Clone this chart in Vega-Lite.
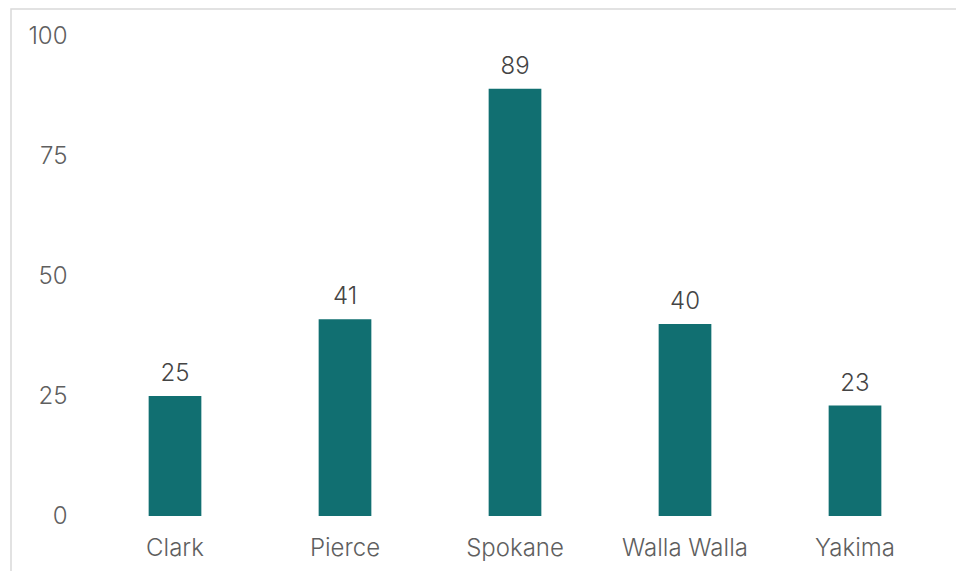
{
  "$schema": "https://vega.github.io/schema/vega-lite/v6.json",
  "autosize": "none",
  "width": 1000,
  "height": 600,
  "padding": {"left": 11, "top": 9, "right": -55, "bottom": -38},
  "background": "white",
  "config": {
    "view": {"stroke": "#d9d9d9", "strokeWidth": 1.5},
    "font": "Inter"
  },
  "data": {"values": [
    {"county": "Clark", "value": 25},
    {"county": "Pierce", "value": 41},
    {"county": "Spokane", "value": 89},
    {"county": "Walla Walla", "value": 40},
    {"county": "Yakima", "value": 23}
  ]},
  "encoding": {
    "x": {"field": "county", "type": "nominal", "sort": null,
      "scale": {"range": [79, 929], "paddingInner": 0.69, "paddingOuter": 0.345},
      "axis": {"title": null, "orient": "bottom", "offset": -92, "domain": false, "ticks": false, "labelPadding": 19, "labelFontSize": 24, "labelFontWeight": 300, "labelColor": "#5f5f5f", "labelAngle": 0, "labelFont": "Inter"}},
    "y": {"field": "value", "type": "quantitative",
      "scale": {"domain": [0, 100], "range": [507, 27], "nice": false},
      "axis": {"title": null, "values": [0, 25, 50, 75, 100], "grid": false, "domain": false, "ticks": false, "tickSize": 0, "labelPadding": -56, "labelFontSize": 24, "labelFontWeight": 300, "labelColor": "#5f5f5f", "labelFont": "Inter"}}
  },
  "layer": [
    {"mark": {"type": "bar", "color": "#116f71"}},
    {"mark": {"type": "text", "baseline": "bottom", "dy": -10, "fontSize": 24, "fontWeight": 300, "color": "#444444", "font": "Inter"},
     "encoding": {"text": {"field": "value", "type": "quantitative"}}}
  ]
}
